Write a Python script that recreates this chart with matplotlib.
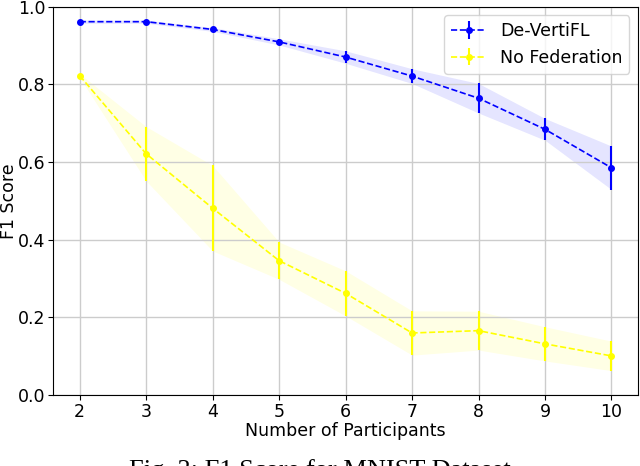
import numpy as np
import matplotlib
matplotlib.use("Agg")
import matplotlib.pyplot as plt

participants = [2, 3, 4, 5, 6, 7, 8, 9, 10]

devertifl_mean = [0.961, 0.961, 0.941, 0.909, 0.870, 0.821, 0.764, 0.684, 0.585]
devertifl_std = [0.004, 0.004, 0.005, 0.008, 0.016, 0.019, 0.038, 0.028, 0.056]

nofed_mean = [0.822, 0.621, 0.481, 0.346, 0.262, 0.160, 0.166, 0.132, 0.101]
nofed_std = [0.005, 0.070, 0.110, 0.048, 0.058, 0.057, 0.050, 0.044, 0.038]

fig = plt.figure(figsize=(6.4, 4.66), dpi=100)
ax = fig.add_axes([0.083, 0.152, 0.914, 0.834])

series = [
    ("De-VertiFL", devertifl_mean, devertifl_std, "blue"),
    ("No Federation", nofed_mean, nofed_std, "yellow"),
]
for label, mean, std, color in series:
    mean = np.array(mean)
    std = np.array(std)
    ax.errorbar(participants, mean, yerr=std, fmt="o--", color=color,
                markersize=4, linewidth=1.2, elinewidth=1.5, label=label)
    ax.fill_between(participants, mean - std, mean + std, color=color,
                    alpha=0.1, linewidth=0)

ax.set_ylim(0, 1.0)
ax.set_xticks(participants)
ax.set_xlabel("Number of Participants", fontsize=12.5, labelpad=0.5)
ax.set_ylabel("F1 Score", fontsize=12.5)
ax.yaxis.set_label_coords(-0.06, 0.5)
ax.tick_params(labelsize=12.5, pad=2)
ax.grid(True, color="#cccccc", linewidth=1)
ax.legend(loc="upper right", fontsize=12.5)

fig.text(0.5, 0.015, "Fig. 3: F1 Score for MNIST Dataset", ha="center",
         va="top", fontsize=19, family="Liberation Serif")

fig.savefig("out.png", dpi=100)
